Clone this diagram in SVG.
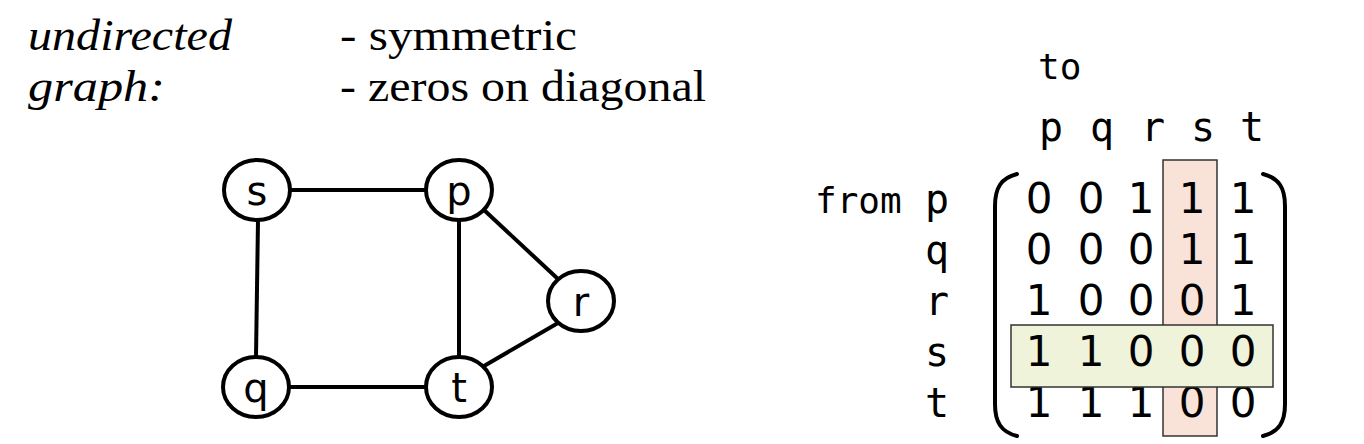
<svg xmlns="http://www.w3.org/2000/svg" width="1364" height="444" viewBox="0 0 1364 444">
<style>
.ser{font-family:"Liberation Serif","DejaVu Serif",serif;font-size:45px;fill:#000}
.it{font-style:italic}
.node ellipse{fill:#fff;stroke:#000;stroke-width:4}
.node text{font-family:"DejaVu Sans","Noto Sans",sans-serif;font-size:40px;text-anchor:middle;fill:#000}
.edges line{stroke:#000;stroke-width:4}
.mono{font-family:"DejaVu Sans Mono","Liberation Mono",monospace;fill:#000}
.lab{font-size:36px}
.dig{font-family:"DejaVu Sans","Noto Sans",sans-serif;font-size:42px;text-anchor:middle}
.hdr{font-size:40px;text-anchor:middle}
.paren{fill:none;stroke:#000;stroke-width:4;stroke-linecap:round}
</style>
<rect width="1364" height="444" fill="#fff"/>
<text class="ser it" x="28" y="50" textLength="204" lengthAdjust="spacingAndGlyphs">undirected</text>
<text class="ser it" x="28" y="101" textLength="137" lengthAdjust="spacingAndGlyphs">graph:</text>
<text class="ser" x="340" y="50" textLength="237" lengthAdjust="spacingAndGlyphs">- symmetric</text>
<text class="ser" x="340" y="101" textLength="366" lengthAdjust="spacingAndGlyphs">- zeros on diagonal</text>

<g class="edges">
<line x1="291" y1="190" x2="425" y2="190"/>
<line x1="258" y1="220" x2="256" y2="357"/>
<line x1="459" y1="220" x2="459" y2="357"/>
<line x1="484" y1="210" x2="558" y2="279"/>
<line x1="558" y1="323" x2="484" y2="366"/>
<line x1="290" y1="387" x2="425" y2="387"/>
</g>
<g id="node-s" class="node"><ellipse cx="257" cy="190" rx="33" ry="30"/><text x="257" y="205">s</text></g>
<g id="node-p" class="node"><ellipse cx="459" cy="190" rx="33" ry="30"/><text x="459" y="205">p</text></g>
<g id="node-r" class="node"><ellipse cx="581" cy="301" rx="33" ry="30"/><text x="581" y="316">r</text></g>
<g id="node-q" class="node"><ellipse cx="256" cy="387" rx="33" ry="30"/><text x="256" y="402">q</text></g>
<g id="node-t" class="node"><ellipse cx="459" cy="387" rx="33" ry="30"/><text x="459" y="402">t</text></g>

<g id="matrix">
<text class="mono lab" x="1038" y="79">to</text>
<text class="mono hdr" x="1051" y="141">p</text>
<text class="mono hdr" x="1102" y="141">q</text>
<text class="mono hdr" x="1153" y="141">r</text>
<text class="mono hdr" x="1203" y="141">s</text>
<text class="mono hdr" x="1252" y="141">t</text>
<text class="mono lab" x="815" y="213">from</text>
<text class="mono hdr" x="937" y="213">p</text>
<text class="mono hdr" x="937" y="264">q</text>
<text class="mono hdr" x="937" y="315">r</text>
<text class="mono hdr" x="937" y="366">s</text>
<text class="mono hdr" x="937" y="417">t</text>
<path class="paren" d="M1017,174 C1001,178 995,188 995,206 L995,404 C995,422 1001,432 1017,436"/>
<path class="paren" d="M1263,174 C1279,178 1285,188 1285,206 L1285,404 C1285,422 1279,432 1263,436"/>
<rect x="1163" y="160" width="54" height="276" fill="#f9e2d8" stroke="#333" stroke-width="1.5"/>
<g class="dig">
<text x="1039" y="213">0</text><text x="1091" y="213">0</text><text x="1141" y="213">1</text><text x="1192" y="213">1</text><text x="1243" y="213">1</text>
<text x="1039" y="264">0</text><text x="1091" y="264">0</text><text x="1141" y="264">0</text><text x="1192" y="264">1</text><text x="1243" y="264">1</text>
<text x="1039" y="315">1</text><text x="1091" y="315">0</text><text x="1141" y="315">0</text><text x="1192" y="315">0</text><text x="1243" y="315">1</text>
<text x="1039" y="417">1</text><text x="1091" y="417">1</text><text x="1141" y="417">1</text><text x="1192" y="417">0</text><text x="1243" y="417">0</text>
</g>
<rect x="1011" y="325" width="262" height="62" fill="#eef3da" stroke="#333" stroke-width="1.5"/>
<g class="dig">
<text x="1039" y="366">1</text><text x="1091" y="366">1</text><text x="1141" y="366">0</text><text x="1192" y="366">0</text><text x="1243" y="366">0</text>
</g>
</g>
</svg>
